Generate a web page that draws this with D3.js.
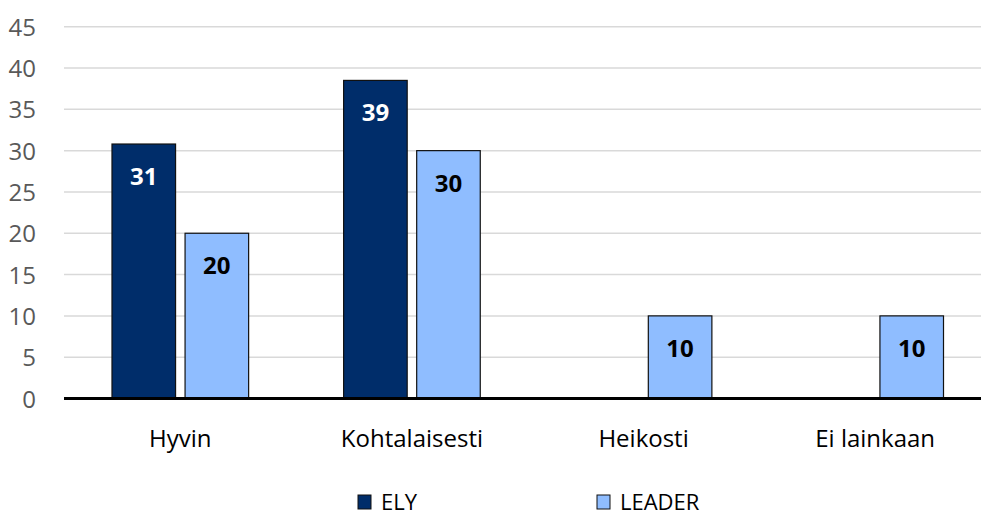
<!DOCTYPE html>
<html>
<head>
<meta charset="utf-8">
<script src="https://cdn.jsdelivr.net/npm/d3@7"></script>
<style>
  html, body { margin: 0; padding: 0; background: #fff; }
  svg { display: block; font-family: 'Open Sans', sans-serif; }
</style>
</head>
<body>
<svg id="chart" width="981" height="515"></svg>
<script>
//

const categories = ['Hyvin', 'Kohtalaisesti', 'Heikosti', 'Ei lainkaan']
const seriesNames = ['ELY', 'LEADER']
const elyValues = [30.8, 38.5, 0, 0]
const leaderValues = [20, 30, 10, 10]
const elyLabels = ['31', '39', '', '']
const leaderLabels = ['20', '30', '10', '10']
const yTicks = [0, 5, 10, 15, 20, 25, 30, 35, 40, 45]

const colors = { ELY: '#002D6A', LEADER: '#8FBDFF' }
const labelColors = { ELY: '#FFFFFF', LEADER: '#000000' }

//

const width = 981
const svg = d3.select('#chart')

const x = d3.scaleBand()
  .domain(categories)
  .range([64.5, 991])
  .paddingInner(0)
  .paddingOuter(0)

const inner = d3.scaleBand()
  .domain(seriesNames)
  .range([0, x.bandwidth()])
  .paddingInner(0.13)
  .paddingOuter(0.65)

const y = d3.scaleLinear()
  .domain([0, 45])
  .range([398.5, 26.7])

// grid
svg.append('g')
  .selectAll('line')
  .data(yTicks.filter((d) => d > 0))
  .join('line')
  .attr('x1', 64)
  .attr('x2', width)
  .attr('y1', (d) => y(d))
  .attr('y2', (d) => y(d))
  .attr('stroke', '#D9D9D9')
  .attr('stroke-width', 1.5)

// y axis labels
const yAxis = d3.axisLeft(y)
  .tickValues(yTicks)
  .tickSize(0)
  .tickPadding(0)

svg.append('g')
  .attr('transform', 'translate(36,0)')
  .call(yAxis)
  .call((g) => g.select('.domain').remove())
  .selectAll('text')
    .attr('fill', '#595959')
    .attr('font-size', 24)
    .attr('font-family', "'Open Sans', sans-serif")
    .attr('dy', '0.36em')

// bars
const rows = categories.map((c, i) => ({
  category: c,
  values: [
    { key: 'ELY', value: elyValues[i], label: elyLabels[i] },
    { key: 'LEADER', value: leaderValues[i], label: leaderLabels[i] }
  ]
}))

const group = svg.append('g')
  .selectAll('g')
  .data(rows)
  .join('g')
  .attr('transform', (d) => `translate(${x(d.category)},0)`)

const bar = group.selectAll('g')
  .data((d) => d.values.filter((v) => v.value > 0))
  .join('g')

bar.append('rect')
  .attr('x', (d) => inner(d.key))
  .attr('y', (d) => y(d.value))
  .attr('width', inner.bandwidth())
  .attr('height', (d) => y(0) - y(d.value))
  .attr('fill', (d) => colors[d.key])
  .attr('stroke', '#111')
  .attr('stroke-width', 1.2)

bar.append('text')
  .attr('x', (d) => inner(d.key) + inner.bandwidth() / 2)
  .attr('y', (d) => y(d.value) + 41)
  .attr('text-anchor', 'middle')
  .attr('font-size', 24)
  .attr('font-weight', 700)
  .attr('fill', (d) => labelColors[d.key])
  .text((d) => d.label)

// zero line
svg.append('line')
  .attr('x1', 64)
  .attr('x2', width)
  .attr('y1', y(0))
  .attr('y2', y(0))
  .attr('stroke', '#000')
  .attr('stroke-width', 3)

// x axis labels
const xAxis = d3.axisBottom(x)
  .tickSize(0)
  .tickPadding(0)

svg.append('g')
  .attr('transform', `translate(0,${y(0)})`)
  .call(xAxis)
  .call((g) => g.select('.domain').remove())
  .selectAll('text')
    .attr('fill', '#000')
    .attr('font-size', 24)
    .attr('font-family', "'Open Sans', sans-serif")
    .attr('dy', 0)
    .attr('y', 48.5)

// legend
const legendX = [358, 597]
const legend = svg.append('g')
  .selectAll('g')
  .data(seriesNames)
  .join('g')
  .attr('transform', (d, i) => `translate(${legendX[i]},495)`)

legend.append('rect')
  .attr('width', 13)
  .attr('height', 14)
  .attr('fill', (d) => colors[d])
  .attr('stroke', '#111')
  .attr('stroke-width', 1)

legend.append('text')
  .attr('x', 23)
  .attr('y', 14.5)
  .attr('font-size', 22)
  .attr('fill', '#000')
  .text((d) => d)
</script>
</body>
</html>
